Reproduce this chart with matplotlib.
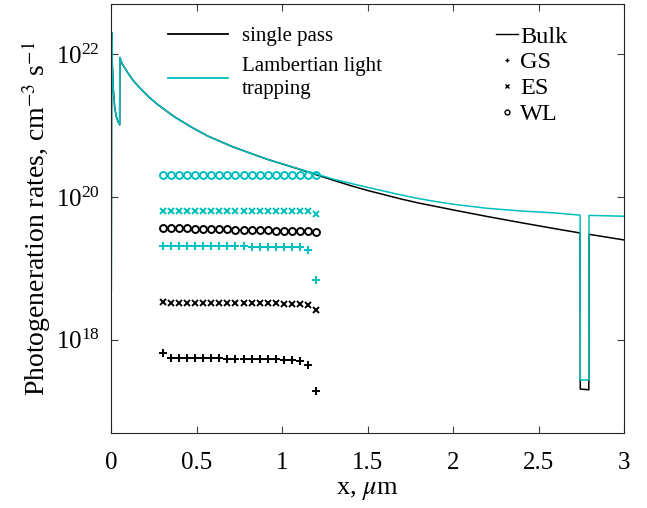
import numpy as np
import matplotlib
matplotlib.use('Agg')
import matplotlib.pyplot as plt
from matplotlib.lines import Line2D

plt.rcParams['font.family'] = ['Liberation Serif', 'DejaVu Serif']
plt.rcParams['mathtext.fontset'] = 'stix'

cyan = '#00BFBF'

# bulk photogeneration rate (cm^-3 s^-1)
x_bulk = [0.0, 0.002, 0.006, 0.012, 0.02, 0.03, 0.04, 0.049, 0.050, 0.065, 0.098, 0.13,
          0.175, 0.22, 0.273, 0.37, 0.468, 0.565, 0.713, 0.908, 1.103, 1.2, 1.3, 1.4, 1.5,
          1.6, 1.7, 1.8, 1.9, 2.0, 2.2, 2.4, 2.6, 2.743, 2.744, 2.794, 2.795, 3.0]
bulk_single = [5.0e18, 2.0e22, 7.1e21, 3.2e21, 1.78e21, 1.32e21, 1.12e21, 1.02e21, 8.9e21,
               7.2e21, 5.4e21, 4.2e21, 3.2e21, 2.5e21, 1.95e21, 1.32e21, 9.5e20, 7.1e20,
               5.0e20, 3.39e20, 2.43e20, 2.04e20, 1.71e20, 1.44e20, 1.23e20, 1.07e20,
               9.3e19, 8.2e19, 7.35e19, 6.58e19, 5.32e19, 4.35e19, 3.58e19, 3.13e19,
               2.05e17, 2.0e17, 3.0e19, 2.5e19]
bulk_llt = [5.0e18, 2.0e22, 7.1e21, 3.2e21, 1.78e21, 1.32e21, 1.12e21, 1.02e21, 8.9e21,
            7.2e21, 5.4e21, 4.2e21, 3.2e21, 2.5e21, 1.95e21, 1.32e21, 9.5e20, 7.1e20,
            5.0e20, 3.39e20, 2.45e20, 2.09e20, 1.77e20, 1.55e20, 1.36e20, 1.2e20,
            1.06e20, 9.46e19, 8.6e19, 7.9e19, 6.93e19, 6.35e19, 5.96e19, 5.56e19,
            2.75e17, 2.75e17, 5.52e19, 5.37e19]

# quantum dot layer positions
x_qd = [0.300, 0.347, 0.395, 0.442, 0.489, 0.537, 0.584, 0.632, 0.679, 0.726,
        0.774, 0.821, 0.868, 0.916, 0.963, 1.011, 1.058, 1.105, 1.153, 1.200]

gs_single = [6.6e17, 5.6e17, 5.6e17, 5.55e17, 5.55e17, 5.5e17, 5.5e17, 5.5e17, 5.45e17, 5.45e17,
             5.4e17, 5.4e17, 5.4e17, 5.35e17, 5.35e17, 5.3e17, 5.25e17, 5.1e17, 4.4e17, 1.9e17]
es_single = [3.35e18, 3.33e18, 3.32e18, 3.31e18, 3.3e18, 3.3e18, 3.29e18, 3.28e18, 3.27e18, 3.27e18,
             3.26e18, 3.25e18, 3.25e18, 3.24e18, 3.23e18, 3.22e18, 3.21e18, 3.19e18, 3.12e18, 2.6e18]
wl_single = [3.72e19, 3.69e19, 3.66e19, 3.63e19, 3.61e19, 3.58e19, 3.56e19, 3.53e19, 3.51e19, 3.49e19,
             3.46e19, 3.44e19, 3.42e19, 3.40e19, 3.38e19, 3.36e19, 3.34e19, 3.32e19, 3.30e19, 3.28e19]
gs_llt = [2.05e19, 2.05e19, 2.05e19, 2.04e19, 2.04e19, 2.04e19, 2.04e19, 2.03e19, 2.03e19, 2.03e19,
          2.03e19, 2.02e19, 2.02e19, 2.02e19, 2.02e19, 2.01e19, 2.01e19, 2.0e19, 1.78e19, 6.8e18]
es_llt = [6.45e19, 6.45e19, 6.45e19, 6.45e19, 6.44e19, 6.44e19, 6.44e19, 6.44e19, 6.43e19, 6.43e19,
          6.43e19, 6.43e19, 6.42e19, 6.42e19, 6.42e19, 6.41e19, 6.41e19, 6.4e19, 6.3e19, 5.75e19]
wl_llt = [2.04e20, 2.04e20, 2.04e20, 2.04e20, 2.04e20, 2.04e20, 2.04e20, 2.04e20, 2.04e20, 2.04e20,
          2.04e20, 2.04e20, 2.04e20, 2.04e20, 2.04e20, 2.04e20, 2.04e20, 2.03e20, 2.03e20, 2.02e20]

fig = plt.figure(figsize=(6.47, 5.08), dpi=100)
ax = fig.add_axes([0.172, 0.148, 0.7925, 0.844])

ax.plot(x_bulk, bulk_single, color='k', lw=1.1)
ax.plot(x_bulk, bulk_llt, color=cyan, lw=1.1)

for vals, col in [(gs_single, 'k'), (gs_llt, cyan)]:
    ax.plot(x_qd, vals, ls='none', marker='+', ms=6, mew=1.4, color=col)
for vals, col in [(es_single, 'k'), (es_llt, cyan)]:
    ax.plot(x_qd, vals, ls='none', marker='x', ms=4.5, mew=1.4, color=col)
for vals, col in [(wl_single, 'k'), (wl_llt, cyan)]:
    ax.plot(x_qd, vals, ls='none', marker='o', ms=5, mew=1.4, mfc='none', color=col)

ax.set_yscale('log')
ax.set_xlim(0, 3)
ax.set_ylim(5.0e16, 5.0e22)
ax.set_yticks([1e18, 1e20, 1e22])
ax.yaxis.set_minor_locator(matplotlib.ticker.NullLocator())
ax.set_xticks([0, 0.5, 1, 1.5, 2, 2.5, 3])
ax.set_xticklabels(['0', '0.5', '1', '1.5', '2', '2.5', '3'])
ax.tick_params(direction='in', top=True, right=True, labelsize=18, length=5, width=0.8,
               color='0.25')
ax.tick_params(axis='x', pad=14)
ax.tick_params(axis='y', pad=8)
for s in ax.spines.values():
    s.set_color('0.15')
    s.set_linewidth(0.8)

ax.set_xlabel(r'x, $\mu$m', fontsize=19, labelpad=4)
ax.set_ylabel(r'Photogeneration rates, cm$^{-3}$ s$^{-1}$', fontsize=20, labelpad=2)

h1 = [Line2D([], [], color='k', lw=1.3), Line2D([], [], color=cyan, lw=1.3)]
leg1 = ax.legend(h1, ['single pass', 'Lambertian light\ntrapping'], loc='upper left',
                 bbox_to_anchor=(0.11, 0.948), frameon=False, fontsize=15,
                 handlelength=2.9, handletextpad=0.65, borderpad=0, borderaxespad=0,
                 labelspacing=0.55)
for t in leg1.get_texts():
    t.set_linespacing(1.25)
ax.add_artist(leg1)

h2 = [Line2D([], [], color='k', lw=1.0),
      Line2D([], [], color='k', ls='none', marker='+', ms=3.5, mew=1.0),
      Line2D([], [], color='k', ls='none', marker='x', ms=3, mew=1.0),
      Line2D([], [], color='k', ls='none', marker='o', ms=3.5, mew=1.0, mfc='none')]
ax.legend(h2, ['Bulk', 'GS', 'ES', 'WL'], loc='upper left', bbox_to_anchor=(0.75, 0.95),
          frameon=False, fontsize=17.5, handlelength=0.9, handletextpad=0.1, borderpad=0,
          borderaxespad=0, labelspacing=0.16)

fig.savefig('out.png', dpi=100)
